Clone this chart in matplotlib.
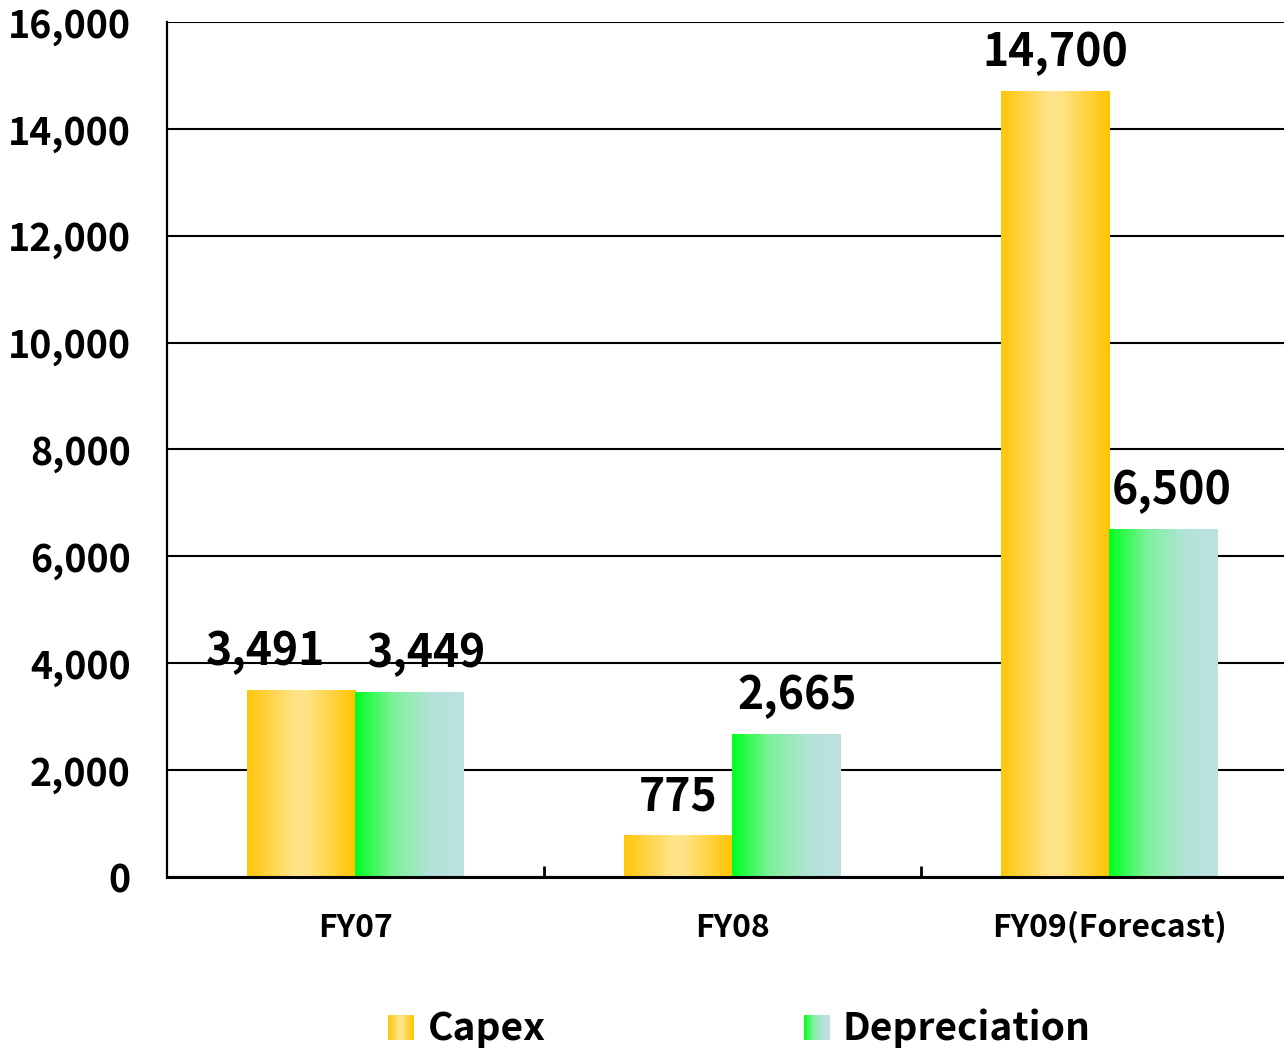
import matplotlib
matplotlib.use("Agg")
import matplotlib.pyplot as plt
import numpy as np
from matplotlib.colors import LinearSegmentedColormap

plt.rcParams['font.family'] = ['Noto Sans CJK JP', 'DejaVu Sans']

years = ["FY07", "FY08", "FY09(Forecast)"]
capex = [3491, 775, 14700]
depreciation = [3449, 2665, 6500]

# gradient fills for the two series
capex_cmap = LinearSegmentedColormap.from_list(
    "capex", [(0, "#FFC60B"), (0.45, "#FFE48A"), (0.55, "#FFE386"), (1, "#FFC400")])
dep_cmap = LinearSegmentedColormap.from_list(
    "dep", [(0, "#00FF1E"), (0.35, "#7DF29A"), (0.7, "#B3E3D8"), (1, "#BDE0E0")])
grad = np.linspace(0, 1, 256).reshape(1, -1)

fig = plt.figure(figsize=(12.84, 10.49), dpi=100)
ax = fig.add_axes([0.130, 0.164, 0.8808, 0.815])

x = np.arange(len(years))
w = 0.287


def gradient_bars(xpos, vals, cmap):
    bars = ax.bar(xpos, vals, w, color="none", edgecolor="none", zorder=3)
    for b in bars:
        x0, y0 = b.get_x(), b.get_y()
        ax.imshow(grad, extent=[x0, x0 + b.get_width(), y0, y0 + b.get_height()],
                  aspect="auto", cmap=cmap, zorder=3, interpolation="bilinear")
    return bars


cb = gradient_bars(x - w / 2, capex, capex_cmap)
db = gradient_bars(x + w / 2, depreciation, dep_cmap)

ax.set_xlim(-0.5, 2.5)
ax.set_ylim(0, 16000)

# value labels
shift_c = [-26, 0, 0]
shift_d = [12, 8, 6]
for b, v, s in zip(cb, capex, shift_c):
    ax.annotate(f"{v:,}", (b.get_x() + b.get_width() / 2, v), xytext=(s, 11),
                textcoords="offset points", ha="center", va="bottom",
                fontsize=32, fontweight="bold", zorder=5)
for b, v, s in zip(db, depreciation, shift_d):
    ax.annotate(f"{v:,}", (b.get_x() + b.get_width() / 2, v), xytext=(s, 11),
                textcoords="offset points", ha="center", va="bottom",
                fontsize=32, fontweight="bold", zorder=5)

ax.set_yticks(np.arange(0, 16001, 2000))
ax.set_yticklabels([f"{v:,}" for v in range(0, 16001, 2000)], fontsize=27, fontweight="bold")
ax.tick_params(axis="y", length=0, pad=26)
ax.set_xticks(x)
ax.set_xticklabels(years, fontsize=23, fontweight="bold")
ax.tick_params(axis="x", which="major", length=0, pad=25)
ax.set_xticks([0.5, 1.5], minor=True)
ax.tick_params(axis="x", which="minor", direction="in", length=8, width=2, color="black")

ax.grid(axis="y", color="black", linewidth=1.5, zorder=1)
ax.set_axisbelow(True)
for side in ["top", "right"]:
    ax.spines[side].set_visible(False)
ax.spines["left"].set_linewidth(1.6)
ax.spines["bottom"].set_linewidth(2.2)
ax.spines["bottom"].set_zorder(4)

# legend built from small gradient swatches
for left, cmap, label, tx in [(0.302, capex_cmap, "Capex", 0.333),
                              (0.626, dep_cmap, "Depreciation", 0.656)]:
    lax = fig.add_axes([left, 0.0086, 0.0195, 0.0238])
    lax.imshow(grad, aspect="auto", cmap=cmap, interpolation="bilinear")
    lax.set_axis_off()
    fig.text(tx, 0.020, label, fontsize=28, fontweight="bold", va="center", ha="left")

fig.savefig("out.png", dpi=100)
